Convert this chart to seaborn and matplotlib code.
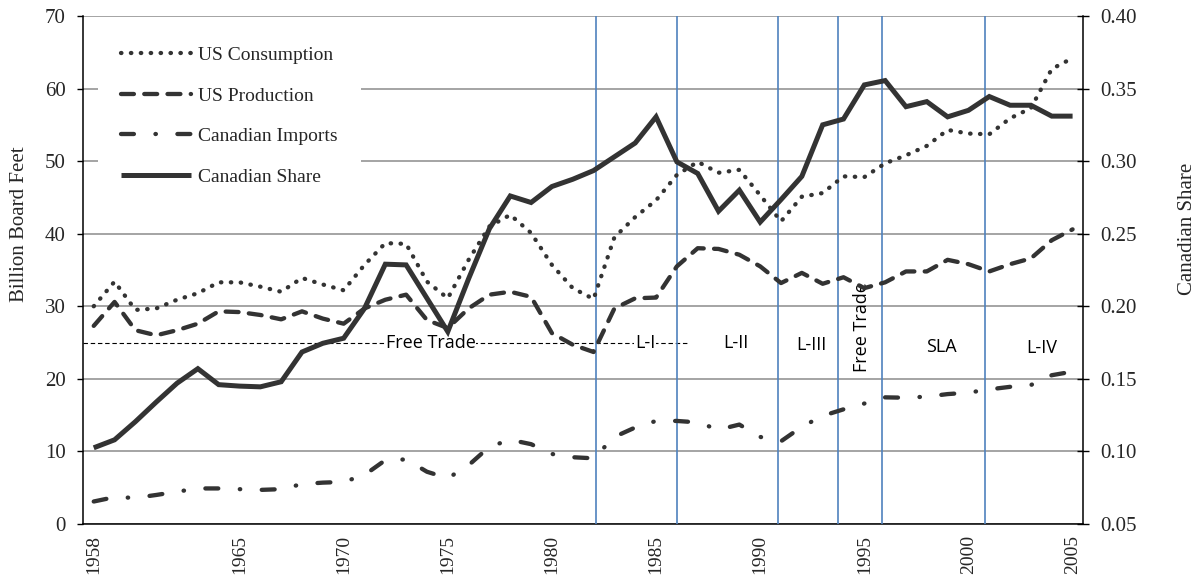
import matplotlib
matplotlib.use("Agg")
import matplotlib.pyplot as plt
import numpy as np
import pandas as pd
import seaborn as sns

# ---------------- data ----------------
years = list(range(1958, 2006))
us_consumption = [30.0, 33.4, 29.5, 29.7, 30.9, 31.8, 33.3, 33.3,
                  32.7, 32.0, 33.9, 33.0, 32.2, 35.7, 38.7, 38.6,
                  33.4, 31.1, 36.4, 41.0, 42.6, 40.1, 35.7, 32.5, 31.0,
                  39.5, 42.3, 44.6, 48.1, 49.9, 48.4, 48.8, 45.3,
                  41.7, 45.1, 45.6, 47.9, 47.8, 49.7, 50.8, 52.1,
                  54.3, 53.8, 53.7, 55.9, 57.3, 62.7, 64.2]
us_production = [27.3, 30.6, 26.7, 26.0, 26.7, 27.6, 29.3, 29.2,
                 28.8, 28.2, 29.3, 28.3, 27.6, 29.7, 30.9, 31.6,
                 28.1, 27.0, 29.7, 31.6, 32.0, 31.3, 26.3, 24.7, 23.7,
                 29.7, 31.1, 31.2, 35.5, 38.0, 37.9, 37.1, 35.5,
                 33.2, 34.6, 33.1, 34.0, 32.5, 33.3, 34.8, 34.8,
                 36.4, 35.8, 34.8, 35.8, 36.6, 39.1, 40.6]
canadian_imports = [3.1, 3.7, 3.6, 4.0, 4.45, 4.9, 4.9, 4.8,
                    4.7, 4.8, 5.5, 5.7, 5.8, 6.75, 8.8, 8.9,
                    7.2, 6.3, 8.1, 10.65, 11.6, 11.0, 9.65, 9.2, 9.05,
                    12.0, 13.3, 14.2, 14.2, 14.0, 13.0, 13.7, 12.0,
                    11.4, 13.4, 14.9, 15.8, 16.6, 17.45, 17.4, 17.55,
                    17.9, 18.1, 18.55, 18.9, 19.15, 20.5, 21.0]
canadian_share = [0.1025, 0.108, 0.1205, 0.134, 0.147, 0.157, 0.146, 0.145,
                  0.1445, 0.148, 0.1685, 0.1745, 0.178, 0.1985, 0.229, 0.2285,
                  0.2055, 0.1825, 0.219, 0.2535, 0.276, 0.2715, 0.2825, 0.2875, 0.2935,
                  0.303, 0.3125, 0.3305, 0.2995, 0.2915, 0.2655, 0.280, 0.258,
                  0.2735, 0.2895, 0.325, 0.329, 0.3525, 0.3555, 0.3375, 0.341,
                  0.3305, 0.335, 0.3445, 0.3385, 0.3385, 0.331, 0.331]

series_labels = ["US Consumption", "US Production", "Canadian Imports", "Canadian Share"]
period_breaks = [1982.13, 1986.0, 1990.87, 1993.76, 1995.83, 2000.79]
period_labels = ["Free Trade", "L-I", "L-II", "L-III", "Free Trade", "SLA", "L-IV"]
period_label_x = [1974.17, 1984.47, 1988.82, 1992.47, 1994.89, 1998.71, 2003.52]
period_label_y = [24.9, 24.9, 24.9, 24.7, 27.1, 24.4, 24.2]
period_label_rot = [0, 0, 0, 0, 90, 0, 0]
xtick_years = [1958, 1965, 1970, 1975, 1980, 1985, 1990, 1995, 2000, 2005]

df = pd.DataFrame({"Year": years,
                   "US Consumption": us_consumption,
                   "US Production": us_production,
                   "Canadian Imports": canadian_imports,
                   "Canadian Share": canadian_share})

# ---------------- style ----------------
sns.set_style("white")
plt.rcParams["font.family"] = ["Liberation Serif", "DejaVu Serif"]

dark = "#333333"
blue = "#4f81bd"
grid_c = "#8c8c8c"
lw = 3.1

fig = plt.figure(figsize=(12.04, 5.83), dpi=100)
ax = fig.add_axes([0.0692, 0.1012, 0.8303, 0.8714])
ax2 = ax.twinx()

styles = {
    "US Consumption": (0, (0.1, 2.2)),
    "US Production": (0, (3.0, 2.4)),
    "Canadian Imports": (0, (3.0, 5.0, 0.1, 5.0)),
}
handles = []
for name in ["US Consumption", "US Production", "Canadian Imports"]:
    sns.lineplot(data=df, x="Year", y=name, ax=ax, color=dark, lw=lw,
                 linestyle=styles[name], dash_capstyle="round",
                 solid_capstyle="round", legend=False, zorder=4)
    handles.append(ax.lines[-1])

sns.lineplot(data=df, x="Year", y="Canadian Share", ax=ax2, color=dark, lw=3.6,
             linestyle="-", solid_capstyle="butt", solid_joinstyle="miter",
             legend=False, zorder=4)
handles.append(ax2.lines[-1])

# period reference lines
for xb in period_breaks:
    ax.axvline(xb, color=blue, lw=1.2, zorder=3)
ax.plot([1957.5, 1986.47], [25, 25], color="black", lw=0.8,
        linestyle=(0, (4, 2.5)), zorder=2)
for lab, xx, yy, rot in zip(period_labels, period_label_x, period_label_y, period_label_rot):
    ax.text(xx, yy, lab, ha="center", va="center", rotation=rot,
            family=["Open Sans", "DejaVu Sans"], fontsize=13, color="black",
            bbox=dict(boxstyle="square,pad=0.05", fc="white", ec="none") if rot == 0 else None,
            zorder=2.5)

# axes limits / ticks
ax.set_xlim(1957.5, 2005.5)
ax.set_ylim(0, 70)
ax2.set_ylim(0.05, 0.40)
ax.set_yticks(np.arange(0, 71, 10))
ax2.set_yticks(np.arange(0.05, 0.401, 0.05))
ax2.set_yticklabels([f"{v:.2f}" for v in np.arange(0.05, 0.401, 0.05)])
ax.set_xticks(xtick_years)
ax.set_xticklabels([str(y) for y in xtick_years], rotation=90)
ax.set_xticks(np.arange(1957.5, 2005.6, 1.0), minor=True)
ax.tick_params(axis="x", which="major", length=0, pad=8, labelsize=14)
ax.tick_params(axis="x", which="minor", direction="out", length=4.5, width=1, color="black")
ax.tick_params(axis="y", direction="out", length=4.5, width=1, pad=8, labelsize=15, color="black")
ax2.tick_params(axis="y", direction="inout", length=9, width=1, pad=8, labelsize=15, color="black")

ax.yaxis.grid(True, color=grid_c, lw=1.1)
ax.xaxis.grid(False)
ax2.grid(False)
ax.set_axisbelow(True)

for s in ["top", "right"]:
    ax.spines[s].set_visible(False)
for s in ["top", "left", "bottom"]:
    ax2.spines[s].set_visible(False)
for sp in [ax.spines["left"], ax.spines["bottom"], ax2.spines["right"]]:
    sp.set_color("black")
    sp.set_linewidth(1.1)

ax.set_xlabel("")
ax.set_ylabel("Billion Board Feet", fontsize=15)
ax2.set_ylabel("Canadian Share", fontsize=15)
ax.yaxis.set_label_coords(-0.054, 0.59)
ax2.yaxis.set_label_coords(1.0955, 0.58)

leg = ax2.legend(handles, series_labels, loc="upper left",
                 bbox_to_anchor=(0.0147, 0.986), borderaxespad=0,
                 frameon=True, fancybox=False, framealpha=1,
                 facecolor="white", edgecolor="none", fontsize=14,
                 handlelength=3.6, handletextpad=0.35, labelspacing=1.18,
                 borderpad=1.2)
leg.set_zorder(10)

fig.savefig("out.png", dpi=100)
